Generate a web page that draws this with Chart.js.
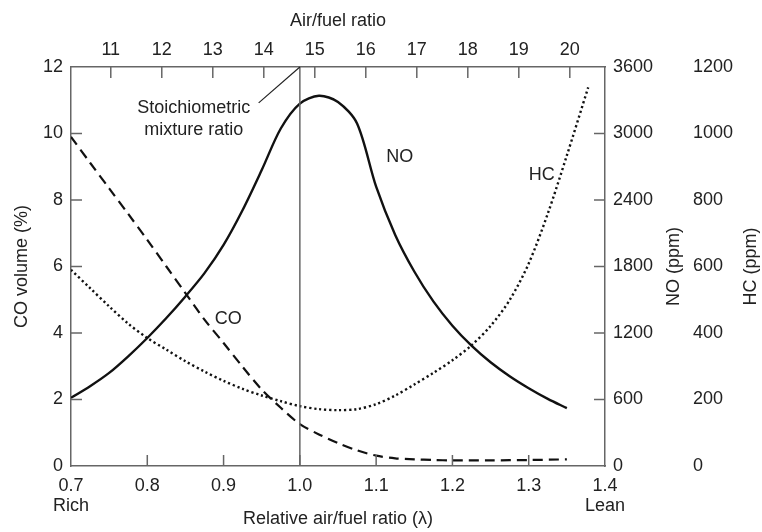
<!DOCTYPE html>
<html>
<head>
<meta charset="utf-8">
<script src="https://cdn.jsdelivr.net/npm/chart.js@4/dist/chart.umd.min.js"></script>
<style>
  html, body { margin: 0; padding: 0; background: #fff; }
  #wrap { width: 762px; height: 532px; }
</style>
</head>
<body>
<div id="wrap"><canvas id="chart" width="762" height="532"></canvas></div>
<script>
// ── Axis ticks
const lambdaTicks = [0.7, 0.8, 0.9, 1.0, 1.1, 1.2, 1.3, 1.4];
const lambdaEnds = { 0.7: 'Rich', 1.4: 'Lean' };
const afrTicks = [11, 12, 13, 14, 15, 16, 17, 18, 19, 20];
const coTicks = [0, 2, 4, 6, 8, 10, 12];
const noTicks = [0, 600, 1200, 1800, 2400, 3000, 3600];
const hcTicks = [0, 200, 400, 600, 800, 1000, 1200];

// ── Curves
const noLambda = [0.700, 0.725, 0.750, 0.775, 0.800, 0.825, 0.850, 0.875, 0.900, 0.925, 0.950, 0.975, 1.000, 1.025, 1.050, 1.075, 1.100, 1.125, 1.150, 1.175, 1.200, 1.225, 1.250, 1.275, 1.300, 1.325, 1.350];
const noPpm    = [615, 720, 840, 990, 1155, 1335, 1530, 1740, 1995, 2310, 2670, 3045, 3270, 3340, 3285, 3090, 2520, 2085, 1755, 1485, 1266, 1086, 936, 810, 702, 606, 522];

const coLambda = [0.700, 0.725, 0.750, 0.775, 0.800, 0.825, 0.850, 0.875, 0.900, 0.925, 0.950, 0.975, 1.000, 1.025, 1.050, 1.075, 1.100, 1.125, 1.150, 1.175, 1.200, 1.250, 1.300, 1.350];
const coVolume = [9.9, 9.12, 8.35, 7.58, 6.8, 6.0, 5.2, 4.4, 3.7, 2.98, 2.3, 1.75, 1.26, 0.95, 0.69, 0.47, 0.31, 0.23, 0.2, 0.18, 0.17, 0.17, 0.18, 0.2];

const hcLambda = [0.700, 0.725, 0.750, 0.775, 0.800, 0.825, 0.850, 0.875, 0.900, 0.925, 0.950, 0.975, 1.000, 1.025, 1.050, 1.075, 1.100, 1.125, 1.150, 1.175, 1.200, 1.225, 1.250, 1.275, 1.300, 1.325, 1.350, 1.378];
const hcPpm    = [590, 535, 480, 428, 385, 350, 315, 284, 256, 232, 212, 195, 180, 171, 168, 171, 186, 212, 245, 280, 318, 363, 421, 499, 609, 759, 934, 1139];

const stoichLambda = 1.0;

const FONT = '"Liberation Sans", Arial, sans-serif';
const INK = '#222';
const AXIS = '#666';

Chart.defaults.font.family = FONT;
Chart.defaults.font.size = 18;
Chart.defaults.color = INK;

const pts = (xs, ys) => xs.map((x, i) => ({ x, y: ys[i] }));
const setTicks = arr => scale => { scale.ticks = arr.map(v => ({ value: v })); };
const fixW = w => scale => { scale.width = w; };
const fixH = h => scale => { scale.height = h; };
const plain = v => String(v);

// ── inward ticks, stoichiometric line, curve labels, right-hand titles
const decor = {
  id: 'decor',
  afterDatasetsDraw(chart) {
    const { ctx, chartArea: a, scales } = chart;
    const { x, y } = scales;
    const len = 11;
    ctx.save();
    ctx.strokeStyle = AXIS;
    ctx.lineWidth = 1.5;
    const seg = (x1, y1, x2, y2) => { ctx.beginPath(); ctx.moveTo(x1, y1); ctx.lineTo(x2, y2); ctx.stroke(); };

    [scales.x, scales.x2].forEach(s => {
      s.ticks.forEach(t => {
        const p = s.getPixelForValue(t.value);
        if (p < a.left + 2 || p > a.right - 2) return;
        if (s.position === 'top') seg(p, a.top, p, a.top + len);
        else seg(p, a.bottom, p, a.bottom - len);
      });
    });
    scales.y.ticks.forEach(t => {
      const p = scales.y.getPixelForValue(t.value);
      if (p > a.bottom - 2 || p < a.top + 2) return;
      seg(a.left, p, a.left + len, p);
    });
    scales.yNO.ticks.forEach(t => {
      const p = scales.yNO.getPixelForValue(t.value);
      if (p > a.bottom - 2 || p < a.top + 2) return;
      seg(a.right, p, a.right - len, p);
    });

    // stoichiometric line + leader
    const sx = x.getPixelForValue(stoichLambda);
    seg(sx, a.top, sx, a.bottom);
    ctx.strokeStyle = INK;
    ctx.lineWidth = 1.2;
    seg(x.getPixelForValue(0.946), y.getPixelForValue(10.92), sx, a.top);

    // labels
    ctx.fillStyle = INK;
    ctx.font = '18px ' + FONT;
    ctx.textAlign = 'center';
    ctx.textBaseline = 'middle';
    ctx.fillText('Stoichiometric', x.getPixelForValue(0.861), y.getPixelForValue(10.77));
    ctx.fillText('mixture ratio', x.getPixelForValue(0.861), y.getPixelForValue(10.1));
    ctx.fillText('NO', x.getPixelForValue(1.131), y.getPixelForValue(9.29));
    ctx.fillText('HC', x.getPixelForValue(1.317), y.getPixelForValue(8.74));
    ctx.fillText('CO', x.getPixelForValue(0.906), y.getPixelForValue(4.42));

    // right-hand axis titles, reading upwards
    const midY = (a.top + a.bottom) / 2;
    [['NO (ppm)', scales.yNO.right - 11], ['HC (ppm)', scales.yHC.right - 11]].forEach(([txt, tx]) => {
      ctx.save();
      ctx.translate(tx, midY);
      ctx.rotate(-Math.PI / 2);
      ctx.fillText(txt, 0, 0);
      ctx.restore();
    });
    ctx.restore();
  }
};

const line = (label, data, axis, dash, width) => ({
  label, data, yAxisID: axis,
  showLine: true, borderColor: '#111', borderWidth: width,
  borderDash: dash, pointRadius: 0, fill: false,
  tension: 0.3
});

new Chart(document.getElementById('chart'), {
  type: 'scatter',
  data: {
    datasets: [
      line('NO', pts(noLambda, noPpm), 'yNO', [], 2.4),
      line('CO', pts(coLambda, coVolume), 'y', [10, 6], 2.2),
      line('HC', pts(hcLambda, hcPpm), 'yHC', [2.2, 2.8], 2.4)
    ]
  },
  options: {
    responsive: false,
    animation: false,
    devicePixelRatio: 1,
    layout: { padding: 0 },
    plugins: { legend: { display: false }, tooltip: { enabled: false } },
    scales: {
      x: {
        type: 'linear', position: 'bottom', min: 0.7, max: 1.4,
        afterBuildTicks: setTicks(lambdaTicks), afterFit: fixH(66),
        grid: { display: false, drawTicks: false },
        border: { display: true, color: AXIS, width: 1.5 },
        ticks: {
          padding: 10, maxRotation: 0, font: { size: 18, lineHeight: 1.1 },
          callback: v => lambdaEnds[v] ? [v.toFixed(1), lambdaEnds[v]] : v.toFixed(1)
        },
        title: { display: true, text: 'Relative air/fuel ratio (λ)', padding: { top: 0, bottom: 2 }, font: { size: 18 } }
      },
      x2: {
        type: 'linear', position: 'top', min: 10.22, max: 20.69,
        afterBuildTicks: setTicks(afrTicks), afterFit: fixH(67),
        grid: { display: false, drawTicks: false },
        border: { display: true, color: AXIS, width: 1.5 },
        ticks: { padding: 7, maxRotation: 0, font: { size: 18, lineHeight: 1.1 }, callback: plain },
        title: { display: true, text: 'Air/fuel ratio', padding: { top: 10, bottom: 0 }, font: { size: 18 } }
      },
      y: {
        type: 'linear', position: 'left', min: 0, max: 12,
        afterBuildTicks: setTicks(coTicks), afterFit: fixW(71),
        grid: { display: false, drawTicks: false },
        border: { display: true, color: AXIS, width: 1.5 },
        ticks: { padding: 8, callback: plain },
        title: { display: true, text: 'CO volume (%)', padding: { top: 11, bottom: 0 }, font: { size: 18 } }
      },
      yNO: {
        type: 'linear', position: 'right', min: 0, max: 3600,
        afterBuildTicks: setTicks(noTicks), afterFit: fixW(80),
        grid: { display: false, drawTicks: false },
        border: { display: true, color: AXIS, width: 1.5 },
        ticks: { padding: 8, callback: plain }
      },
      yHC: {
        type: 'linear', position: 'right', min: 0, max: 1200,
        afterBuildTicks: setTicks(hcTicks), afterFit: fixW(77),
        grid: { display: false, drawTicks: false },
        border: { display: false },
        ticks: { padding: 8, callback: plain }
      }
    }
  },
  plugins: [decor]
});
</script>
</body>
</html>
